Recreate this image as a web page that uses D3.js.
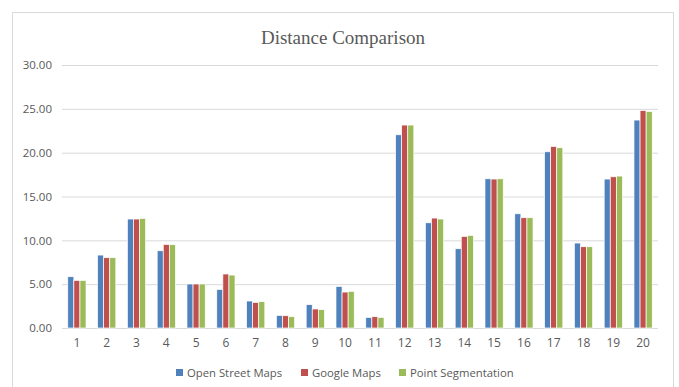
<!DOCTYPE html>
<html>
<head>
<meta charset="utf-8">
<script src="https://cdn.jsdelivr.net/npm/d3@7"></script>
<style>
  html, body { margin: 0; padding: 0; background: #fff; }
  svg { display: block; }
</style>
</head>
<body>
<svg id="chart" width="679" height="387"></svg>
<script>
// Route distances measured by three methods
const categories = ["1","2","3","4","5","6","7","8","9","10","11","12","13","14","15","16","17","18","19","20"];
const openStreetMaps = [5.85, 8.32, 12.43, 8.81, 5.02, 4.40, 3.08, 1.44, 2.66, 4.75, 1.21, 22.04, 12.00, 9.04, 17.02, 13.03, 20.10, 9.69, 16.99, 23.72];
const googleMaps = [5.43, 8.02, 12.43, 9.53, 5.02, 6.16, 2.92, 1.40, 2.17, 4.10, 1.29, 23.15, 12.54, 10.45, 16.99, 12.58, 20.71, 9.27, 17.25, 24.81];
const pointSegmentation = [5.43, 8.02, 12.50, 9.50, 5.02, 6.04, 3.00, 1.29, 2.09, 4.18, 1.21, 23.15, 12.43, 10.56, 17.02, 12.58, 20.56, 9.27, 17.33, 24.70];
const seriesNames = ["Open Street Maps", "Google Maps", "Point Segmentation"];
const seriesColors = ["#4f81bd", "#c0504d", "#9bbb59"];
const yTicks = [0, 5, 10, 15, 20, 25, 30];
const title = "Distance Comparison";

const seriesValues = [openStreetMaps, googleMaps, pointSegmentation];

const svg = d3.select("#chart");

// chart area frame
svg.append("rect")
  .attr("x", 12.5).attr("y", 12.5)
  .attr("width", 661).attr("height", 400)
  .attr("fill", "#fff")
  .attr("stroke", "#d9d9d9").attr("stroke-width", 1);

svg.append("text")
  .attr("x", 343).attr("y", 44)
  .attr("text-anchor", "middle")
  .attr("font-family", "'Liberation Serif', serif")
  .attr("font-size", 19)
  .attr("fill", "#595959")
  .text(title);

const plot = { left: 62, right: 658, top: 65, bottom: 328 };

const x = d3.scaleBand().domain(categories).range([plot.left, plot.right]).paddingInner(0).paddingOuter(0);
const inner = d3.scaleBand().domain(d3.range(seriesNames.length)).range([0, x.bandwidth()]).paddingInner(0).paddingOuter(0.95);
const y = d3.scaleLinear().domain([0, 30]).range([plot.bottom, plot.top]);

// gridlines and y labels
const yAxis = d3.axisLeft(y).tickValues(yTicks).tickSize(-(plot.right - plot.left)).tickPadding(10)
  .tickFormat(d3.format(".2f"));
const gy = svg.append("g").attr("transform", `translate(${plot.left},0)`).call(yAxis);
gy.select(".domain").remove();
gy.selectAll(".tick line").attr("stroke", "#d9d9d9").attr("stroke-width", 1);
gy.selectAll(".tick text")
  .attr("font-family", "'Open Sans', sans-serif")
  .attr("font-size", 11.5)
  .attr("fill", "#595959");

// bars
const groups = svg.append("g").selectAll("g")
  .data(categories)
  .join("g")
  .attr("transform", d => `translate(${x(d)},0)`);

groups.selectAll("rect")
  .data((d, i) => seriesValues.map((vals, s) => ({ s, v: vals[i] })))
  .join("rect")
  .attr("x", d => inner(d.s))
  .attr("width", inner.bandwidth())
  .attr("y", d => y(d.v))
  .attr("height", d => y(0) - y(d.v))
  .attr("fill", d => seriesColors[d.s])
  .attr("stroke", "#fff")
  .attr("stroke-width", 0.7);

// category axis labels
const xAxis = d3.axisBottom(x).tickSize(0).tickPadding(10);
const gx = svg.append("g").attr("transform", `translate(0,${plot.bottom})`).call(xAxis);
gx.select(".domain").remove();
gx.selectAll(".tick text")
  .attr("font-family", "'Open Sans', sans-serif")
  .attr("font-size", 12)
  .attr("fill", "#595959");

// legend
const legendX = [176, 301, 399];
const legend = svg.append("g").selectAll("g")
  .data(seriesNames)
  .join("g")
  .attr("transform", (d, i) => `translate(${legendX[i]},369)`);
legend.append("rect")
  .attr("width", 7).attr("height", 7)
  .attr("fill", (d, i) => seriesColors[i]);
legend.append("text")
  .attr("x", 11).attr("y", 7.5)
  .attr("font-family", "'Open Sans', sans-serif")
  .attr("font-size", 11.3)
  .attr("fill", "#595959")
  .text(d => d);
</script>
</body>
</html>
